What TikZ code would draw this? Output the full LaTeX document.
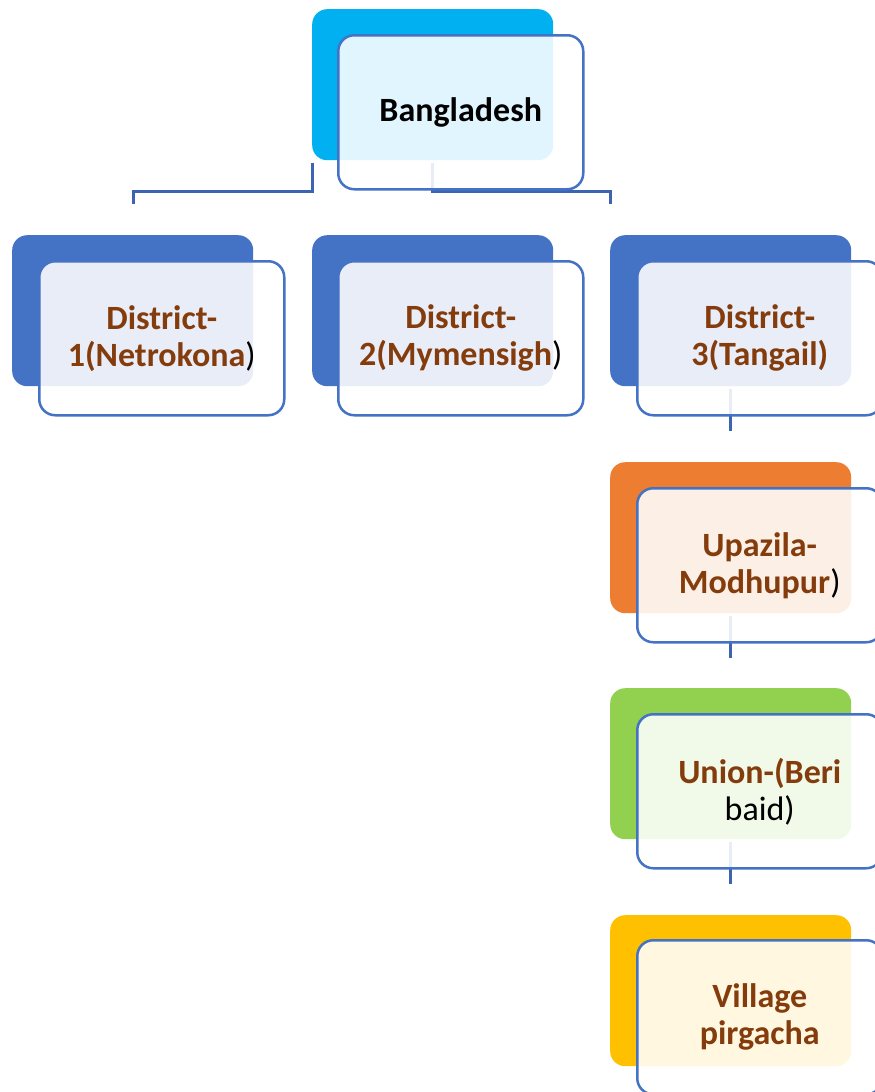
\documentclass[tikz,border=0pt]{standalone}
\usepackage{fontspec}
\setmainfont{Carlito}
\definecolor{outl}{HTML}{4472C4}
\definecolor{conncol}{HTML}{3D64B0}
\definecolor{brn}{HTML}{843C0C}
\definecolor{cyanB}{HTML}{00B0F0}
\definecolor{blueB}{HTML}{4472C4}
\definecolor{orangeB}{HTML}{ED7D31}
\definecolor{greenB}{HTML}{92D050}
\definecolor{goldB}{HTML}{FFC000}
\tikzset{
  backbox/.style={rounded corners=15pt, minimum width=241pt, minimum height=151pt, inner sep=0pt, draw=none, anchor=north west},
  frontbox/.style={rounded corners=16pt, draw=outl, line width=2.5pt, fill=white, fill opacity=0.88, text opacity=1, draw opacity=1,
    minimum width=245pt, minimum height=154pt, inner sep=0pt, anchor=north west, align=center,
    font=\fontsize{34}{37}\selectfont\bfseries, text=brn},
  conn/.style={draw=conncol, line width=3pt}
}
\newcommand{\blk}[1]{{\color{black}\mdseries #1}}
\begin{document}
\begin{tikzpicture}[x=1pt,y=-1pt]
\useasboundingbox (0,0) rectangle (875,1092);
\clip (0,0) rectangle (875,1092);
\coordinate (j1) at (133,204);
\coordinate (j3) at (610,204);
% back boxes
\node[backbox, fill=cyanB] (bb) at (312,9) {};
\node[backbox, fill=blueB] (d1b) at (12,235) {};
\node[backbox, fill=blueB] (d2b) at (312,235) {};
\node[backbox, fill=blueB] (d3b) at (610,235) {};
\node[backbox, fill=orangeB] (ub) at (610,462) {};
\node[backbox, fill=greenB] (nb) at (610,688) {};
\node[backbox, fill=goldB] (vb) at (610,915) {};
% connectors
\draw[conn] ([yshift=-3pt]bb.south west) -- ++(0,28) -| (j1);
\draw[conn] ([yshift=-3pt]bb.south) -- ++(0,28) -| (j3);
\draw[conn] ([yshift=-3pt]d3b.south) -- ++(0,42);
\draw[conn] ([yshift=-3pt]ub.south) -- ++(0,42);
\draw[conn] ([yshift=-3pt]nb.south) -- ++(0,42);
% front boxes
\node[frontbox, text=black] (bf) at (337,34) {Bangladesh};
\node[frontbox] (d1f) at (38,260) {District-\\1(Netrokona\blk{)}};
\node[frontbox] (d2f) at (337,260) {District-\\2(Mymensigh\blk{)}};
\node[frontbox] (d3f) at (636,260) {District-\\3(Tangail)};
\node[frontbox] (uf) at (636,487) {Upazila-\\Modhupur\blk{)}};
\node[frontbox] (nf) at (636,713) {Union-(Beri\\\blk{baid)}};
\node[frontbox] (vf) at (636,939) {Village\\pirgacha};
\end{tikzpicture}
\end{document}
